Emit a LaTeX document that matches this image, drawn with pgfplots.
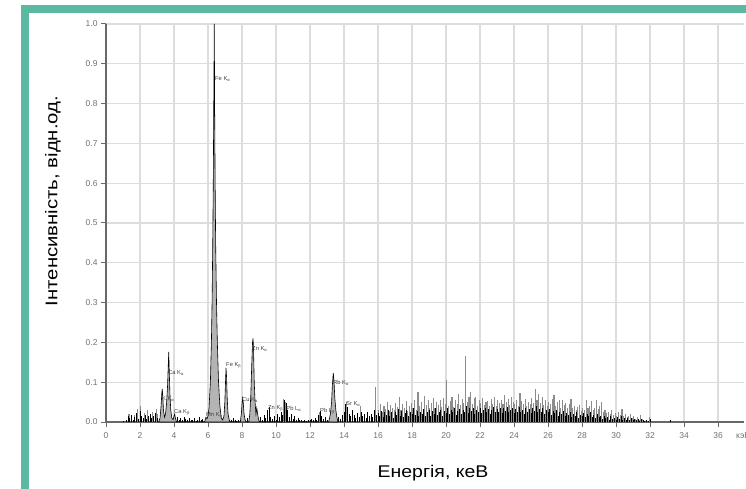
\documentclass[border=0pt]{standalone}
\usepackage{fontspec}
\setmainfont{Liberation Sans}
\usepackage{graphicx}
\usepackage{pgfplots}
\pgfplotsset{compat=1.18}
\definecolor{teal1}{HTML}{5DB8A2}
\definecolor{gridc}{HTML}{DDDDDD}
\definecolor{axc}{HTML}{686868}
\definecolor{tickc}{HTML}{707070}
\definecolor{peakc}{HTML}{B4B4B4}
\definecolor{spikec}{HTML}{8C8C8C}
\tikzset{lab/.style={font=\fontsize{5.8}{6}\selectfont, text=black!75, inner sep=0pt, anchor=west}}
\begin{document}
\begin{tikzpicture}
\begin{axis}[
  name=ax, at={(0,0)}, anchor=south west,
  scale only axis, width=637.5bp, height=398bp,
  xmin=0, xmax=37.5, ymin=0, ymax=1,
  axis x line*=bottom, axis y line*=left,
  axis line style={axc, line width=1.3bp},
  xtick={0,2,4,6,8,10,12,14,16,18,20,22,24,26,28,30,32,34,36},
  ytick={0,0.1,0.2,0.3,0.4,0.5,0.6,0.7,0.8,0.9,1.0},
  grid=major, major grid style={gridc, line width=1.3bp},
  tick align=outside, major tick length=5bp,
  tick style={axc, line width=1bp},
  ticklabel style={font=\fontsize{8.5}{10}\selectfont, text=tickc},
  /pgf/number format/assume math mode=true,
  yticklabel style={/pgf/number format/.cd, fixed, fixed zerofill, precision=1},
  xticklabel style={yshift=-2bp},
  clip=false,
]
% main peaks (filled)
\addplot[draw=black, line width=0.6bp, fill=peakc] coordinates {
(3.1,0)(3.18,0.01)(3.24,0.04)(3.28,0.07)(3.31,0.083)(3.34,0.065)(3.38,0.03)(3.44,0.012)
(3.5,0.02)(3.56,0.045)(3.62,0.09)(3.66,0.14)(3.69,0.176)(3.72,0.13)(3.76,0.07)(3.81,0.03)
(3.87,0.01)(3.95,0.006)(4.0,0.015)(4.04,0.02)(4.08,0.01)(4.15,0)
(5.8,0)(5.88,0.012)(5.94,0.008)(6.0,0.015)(6.06,0.035)(6.14,0.1)(6.2,0.2)(6.24,0.3)
(6.28,0.45)(6.31,0.6)(6.34,0.8)(6.37,1.0)(6.39,0.8)(6.42,0.6)(6.45,0.45)(6.5,0.3)
(6.55,0.2)(6.62,0.1)(6.7,0.04)(6.78,0.01)
(6.86,0.005)(6.94,0.015)(6.99,0.05)(7.03,0.1)(7.06,0.136)(7.09,0.115)
(7.13,0.06)(7.18,0.02)(7.25,0.005)(7.3,0)
(7.9,0)(7.96,0.02)(8.01,0.05)(8.04,0.06)(8.07,0.05)(8.12,0.02)(8.18,0.006)(8.25,0)
(8.4,0)(8.46,0.02)(8.52,0.07)(8.57,0.14)(8.62,0.2)(8.65,0.21)(8.68,0.18)(8.72,0.1)
(8.77,0.05)(8.82,0.02)(8.87,0.035)(8.92,0.02)(8.98,0.005)(9.05,0)
(13.1,0)(13.2,0.02)(13.27,0.05)(13.32,0.095)(13.37,0.123)(13.41,0.105)(13.46,0.06)
(13.52,0.03)(13.58,0.012)(13.65,0)
} \closedcycle;
% grey spikes
\addplot[ycomb, draw=spikec, line width=1.1bp] coordinates {
(1.35,0.020)(1.65,0.018)(1.85,0.032)(2.05,0.040)(2.25,0.022)(2.45,0.030)(2.75,0.026)(2.95,0.032)(3.05,0.020)
(10.45,0.058)(10.55,0.050)(12.55,0.025)(14.15,0.050)(14.95,0.040)
(15.85,0.088)(16.05,0.030)(16.15,0.045)(16.25,0.025)(16.35,0.040)(16.45,0.032)(16.55,0.050)(16.65,0.028)
(16.75,0.042)(16.85,0.035)(16.95,0.030)(17.05,0.048)(17.15,0.038)(17.25,0.063)(17.35,0.030)(17.45,0.045)
(17.55,0.035)(17.65,0.052)(17.75,0.028)(17.85,0.040)(17.95,0.048)(18.05,0.035)(18.15,0.055)(18.25,0.030)
(18.35,0.075)(18.45,0.040)(18.55,0.050)(18.65,0.032)(18.75,0.065)(18.85,0.042)(18.95,0.055)(19.05,0.036)
(19.15,0.048)(19.25,0.060)(19.35,0.034)(19.45,0.050)(19.55,0.042)(19.65,0.056)(19.75,0.038)(19.85,0.060)
(19.95,0.045)(20.05,0.106)(20.15,0.040)(20.25,0.052)(20.35,0.062)(20.45,0.038)(20.55,0.055)(20.65,0.045)
(20.75,0.070)(20.85,0.042)(20.95,0.058)(21.05,0.048)(21.15,0.166)(21.25,0.050)(21.35,0.062)(21.45,0.076)
(21.55,0.045)(21.65,0.060)(21.75,0.064)(21.85,0.040)(21.95,0.055)(22.05,0.048)(22.15,0.060)(22.25,0.042)
(22.35,0.050)(22.45,0.052)(22.55,0.040)(22.65,0.058)(22.75,0.046)(22.85,0.062)(22.95,0.040)(23.05,0.055)
(23.15,0.048)(23.25,0.056)(23.35,0.044)(23.45,0.068)(23.55,0.050)(23.65,0.058)(23.75,0.042)(23.85,0.062)
(23.95,0.050)(24.05,0.045)(24.15,0.056)(24.25,0.040)(24.35,0.073)(24.45,0.052)(24.55,0.046)(24.65,0.058)
(24.75,0.040)(24.85,0.050)(24.95,0.044)(25.05,0.060)(25.15,0.048)(25.25,0.082)(25.35,0.055)(25.45,0.070)
(25.55,0.048)(25.65,0.063)(25.75,0.042)(25.85,0.055)(25.95,0.040)(26.05,0.050)(26.15,0.044)(26.25,0.058)
(26.35,0.068)(26.45,0.040)(26.55,0.050)(26.65,0.055)(26.75,0.036)(26.85,0.055)(26.95,0.042)(27.05,0.048)
(27.15,0.034)(27.25,0.045)(27.35,0.057)(27.45,0.036)(27.55,0.040)(27.65,0.030)(27.75,0.038)(27.85,0.043)
(27.95,0.028)(28.05,0.036)(28.15,0.030)(28.25,0.055)(28.35,0.034)(28.45,0.040)(28.55,0.053)(28.65,0.030)
(28.75,0.036)(28.85,0.055)(28.95,0.032)(29.05,0.040)(29.15,0.049)(29.25,0.026)(29.35,0.030)(29.45,0.022)
(29.55,0.026)(29.65,0.020)(29.75,0.030)(29.85,0.018)(29.95,0.022)(30.05,0.016)(30.15,0.024)(30.25,0.018)
(30.35,0.033)(30.45,0.015)(30.55,0.020)(30.65,0.012)(30.75,0.016)(30.85,0.020)(30.95,0.010)(31.05,0.014)
(31.15,0.008)(31.25,0.012)(31.35,0.006)(31.45,0.017)(31.55,0.008)(31.95,0.012)
};
% black noise
\addplot[ycomb, draw=black, line width=0.9bp] coordinates {
(1.0,0.003)(1.2,0.006)(1.3,0.015)(1.4,0.010)(1.5,0.018)(1.6,0.006)(1.7,0.012)(1.8,0.022)(1.9,0.008)
(2.0,0.028)(2.1,0.016)(2.2,0.010)(2.3,0.018)(2.4,0.007)(2.5,0.014)(2.6,0.020)(2.7,0.009)(2.8,0.016)
(2.9,0.022)(3.0,0.011)
(4.2,0.012)(4.3,0.006)(4.4,0.010)(4.5,0.004)(4.6,0.012)(4.7,0.008)(4.8,0.005)(4.9,0.010)(5.0,0.006)
(5.1,0.004)(5.2,0.009)(5.3,0.003)(5.4,0.006)(5.5,0.012)(5.6,0.005)(5.7,0.008)
(7.4,0.004)(7.5,0.010)(7.6,0.005)(7.7,0.003)(7.8,0.006)(8.3,0.010)
(9.1,0.012)(9.2,0.006)(9.3,0.018)(9.4,0.010)(9.5,0.030)(9.6,0.038)(9.7,0.012)(9.8,0.008)(9.9,0.015)
(10.0,0.006)(10.1,0.020)(10.2,0.012)(10.3,0.025)(10.4,0.018)(10.5,0.055)(10.6,0.048)(10.7,0.030)
(10.8,0.012)(10.9,0.020)(11.0,0.008)(11.1,0.014)(11.2,0.006)(11.3,0.010)(11.4,0.004)(11.5,0.006)
(11.6,0.003)(11.7,0.005)(11.8,0.002)(11.9,0.006)(12.0,0.004)(12.1,0.008)(12.2,0.005)(12.3,0.010)
(12.4,0.006)(12.5,0.018)(12.6,0.028)(12.7,0.015)(12.8,0.008)(12.9,0.012)(13.0,0.006)
(13.7,0.012)(13.8,0.008)(13.9,0.018)(14.0,0.025)(14.1,0.045)(14.2,0.038)(14.3,0.020)(14.4,0.015)
(14.5,0.030)(14.6,0.018)(14.7,0.010)(14.8,0.022)(14.9,0.012)(15.0,0.026)(15.1,0.015)(15.2,0.020)
(15.3,0.010)(15.4,0.024)(15.5,0.014)(15.6,0.020)(15.7,0.012)(15.8,0.030)(15.9,0.018)
(16.0,0.022)(16.1,0.015)(16.2,0.028)(16.3,0.012)(16.4,0.025)(16.5,0.018)(16.6,0.030)(16.7,0.014)
(16.8,0.024)(16.9,0.010)(17.0,0.026)(17.1,0.018)(17.2,0.032)(17.3,0.015)(17.4,0.028)(17.5,0.012)
(17.6,0.022)(17.7,0.030)(17.8,0.016)(17.9,0.025)(18.0,0.020)(18.1,0.034)(18.2,0.018)(18.3,0.028)
(18.4,0.014)(18.5,0.026)(18.6,0.020)(18.7,0.032)(18.8,0.016)(18.9,0.024)(19.0,0.030)(19.1,0.015)
(19.2,0.027)(19.3,0.020)(19.4,0.034)(19.5,0.018)(19.6,0.025)(19.7,0.030)(19.8,0.016)(19.9,0.028)
(20.0,0.022)(20.1,0.036)(20.2,0.020)(20.3,0.030)(20.4,0.024)(20.5,0.035)(20.6,0.018)(20.7,0.028)
(20.8,0.032)(20.9,0.020)(21.0,0.030)(21.1,0.026)(21.2,0.040)(21.3,0.022)(21.4,0.034)(21.5,0.028)
(21.6,0.036)(21.7,0.020)(21.8,0.030)(21.9,0.026)(22.0,0.034)(22.1,0.022)(22.2,0.030)(22.3,0.036)
(22.4,0.024)(22.5,0.032)(22.6,0.020)(22.7,0.030)(22.8,0.038)(22.9,0.024)(23.0,0.032)(23.1,0.026)
(23.2,0.036)(23.3,0.022)(23.4,0.034)(23.5,0.028)(23.6,0.038)(23.7,0.024)(23.8,0.030)(23.9,0.036)
(24.0,0.022)(24.1,0.032)(24.2,0.026)(24.3,0.038)(24.4,0.024)(24.5,0.030)(24.6,0.020)(24.7,0.034)
(24.8,0.026)(24.9,0.032)(25.0,0.022)(25.1,0.036)(25.2,0.028)(25.3,0.040)(25.4,0.024)(25.5,0.032)
(25.6,0.026)(25.7,0.034)(25.8,0.020)(25.9,0.030)(26.0,0.024)(26.1,0.032)(26.2,0.018)(26.3,0.028)
(26.4,0.022)(26.5,0.030)(26.6,0.016)(26.7,0.026)(26.8,0.020)(26.9,0.028)(27.0,0.014)(27.1,0.022)
(27.2,0.018)(27.3,0.026)(27.4,0.012)(27.5,0.020)(27.6,0.016)(27.7,0.024)(27.8,0.010)(27.9,0.018)
(28.0,0.014)(28.1,0.022)(28.2,0.012)(28.3,0.020)(28.4,0.016)(28.5,0.024)(28.6,0.012)(28.7,0.018)
(28.8,0.010)(28.9,0.020)(29.0,0.012)(29.1,0.016)(29.2,0.008)(29.3,0.014)(29.4,0.010)(29.5,0.012)
(29.6,0.006)(29.7,0.014)(29.8,0.008)(29.9,0.010)(30.0,0.006)(30.1,0.012)(30.2,0.008)(30.3,0.014)
(30.4,0.006)(30.5,0.010)(30.6,0.005)(30.7,0.009)(30.8,0.004)(30.9,0.010)(31.0,0.006)(31.1,0.008)
(31.2,0.004)(31.3,0.007)(31.4,0.003)(31.5,0.008)(31.6,0.004)(31.7,0.002)(31.8,0.006)(31.9,0.003)
(32.0,0.008)(33.2,0.004)
};
% peak labels
\node[lab] at (axis cs:6.41,0.862) {Fe K\textsubscript{α}};
\node[lab] at (axis cs:3.65,0.124) {Ca K\textsubscript{α}};
\node[lab] at (axis cs:3.29,0.058) {K K\textsubscript{α}};
\node[lab] at (axis cs:4.00,0.025) {Ca K\textsubscript{β}};
\node[lab] at (axis cs:5.88,0.018) {Mn K\textsubscript{α}};
\node[lab] at (axis cs:7.06,0.143) {Fe K\textsubscript{β}};
\node[lab] at (axis cs:8.59,0.183) {Zn K\textsubscript{α}};
\node[lab] at (axis cs:8.00,0.055) {Cu K\textsubscript{α}};
\node[lab] at (axis cs:9.53,0.033) {Zn K\textsubscript{β}};
\node[lab] at (axis cs:10.60,0.033) {Pb L\textsubscript{α}};
\node[lab] at (axis cs:12.59,0.028) {Pb L\textsubscript{β}};
\node[lab] at (axis cs:13.35,0.098) {Rb K\textsubscript{α}};
\node[lab] at (axis cs:14.12,0.045) {Sr K\textsubscript{α}};
\end{axis}
% units fragment after last tick
\node[anchor=west, inner sep=0pt, font=\fontsize{8.5}{10}\selectfont, text=tickc] at (630bp,-14bp) {кэВ};
% axis titles
\node[anchor=base, inner sep=0pt, font=\fontsize{17}{20}\selectfont] at (327bp,-55bp) {\scalebox{1.15}[1]{Енергія, кеВ}};
\node[anchor=base, inner sep=0pt, rotate=90, font=\fontsize{17}{20}\selectfont] at (-48.5bp,221bp) {\scalebox{1.2}[1]{Інтенсивність, відн.од.}};
% teal frame
\fill[teal1] (-85bp,-67bp) rectangle (-77bp,417bp);
\fill[teal1] (-85bp,409bp) rectangle (640bp,417bp);
\pgfresetboundingbox
\path[use as bounding box] (-106bp,-67bp) rectangle (640bp,422bp);
\end{tikzpicture}
\end{document}
